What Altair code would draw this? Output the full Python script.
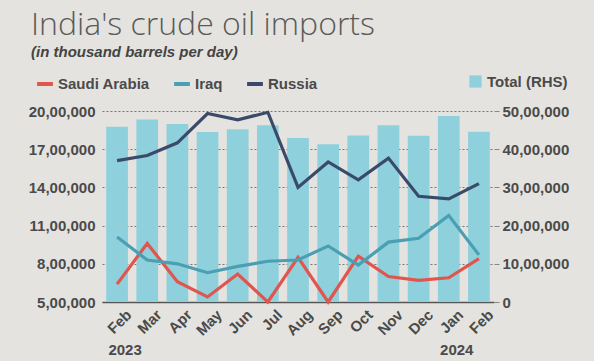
import altair as alt
import pandas as pd

months = ["Feb", "Mar", "Apr", "May", "Jun", "Jul", "Aug", "Sep", "Oct", "Nov", "Dec", "Jan", "Feb"]
years = ["2023"] * 11 + ["2024"] * 2
total = [4590000, 4780000, 4660000, 4450000, 4520000, 4630000, 4290000,
         4130000, 4360000, 4630000, 4350000, 4870000, 4460000]
saudi = [640000, 960000, 660000, 540000, 720000, 500000, 850000,
         500000, 860000, 700000, 670000, 690000, 840000]
iraq = [1010000, 830000, 800000, 730000, 780000, 820000, 830000,
        940000, 790000, 970000, 1000000, 1180000, 870000]
russia = [1610000, 1650000, 1750000, 1980000, 1930000, 1990000, 1400000,
          1600000, 1460000, 1630000, 1330000, 1310000, 1430000]
series_names = ["Saudi Arabia", "Iraq", "Russia"]
series_colors = ["#e0554d", "#4a9fb3", "#3b4a6a"]
year_marks = ["Feb 2023", "Jan 2024"]
year_text = ["2023", "2024"]

keys = [f"{m} {y}" for m, y in zip(months, years)]

bars_df = pd.DataFrame({"key": keys, "total": total, "lab": ["Total (RHS)"] * len(keys)})
rows = []
for name, vals in zip(series_names, [saudi, iraq, russia]):
    for k, v in zip(keys, vals):
        rows.append({"key": k, "series": name, "value": v})
lines_df = pd.DataFrame(rows)
years_df = pd.DataFrame({"key": year_marks, "year": year_text})

FONT = "Liberation Sans, Arial, sans-serif"
FS = 15
TXT = "#4a4a4a"
indian = ("datum.value == 0 ? '0' : format(floor(datum.value/100000),'d') + ',' + "
          "format(floor((datum.value%100000)/1000),'02d') + ',' + format(datum.value%1000,'03d')")

xenc = alt.X("key:N", sort=keys, title=None,
             scale=alt.Scale(paddingInner=0.28, paddingOuter=0.14),
             axis=alt.Axis(labelExpr="split(datum.label, ' ')[0]", labelAngle=-45,
                           labelFont=FONT, labelFontSize=FS, labelFontWeight="bold",
                           labelColor=TXT, ticks=False, domainColor="#555",
                           domainWidth=1.5, labelPadding=5, labelOffset=7))

bars = alt.Chart(bars_df).mark_bar(opacity=1).encode(
    x=xenc,
    y=alt.Y("total:Q", title=None,
            scale=alt.Scale(domain=[0, 5000000], nice=False),
            axis=alt.Axis(orient="right", values=[0, 1000000, 2000000, 3000000, 4000000, 5000000],
                          labelExpr=indian, grid=False, domain=False, ticks=True,
                          tickSize=5, tickColor="#888", labelPadding=3,
                          labelFont=FONT, labelFontSize=FS, labelFontWeight="bold",
                          labelColor=TXT)),
    color=alt.Color("lab:N", scale=alt.Scale(domain=["Total (RHS)"], range=["#8fd0dd"]),
                    legend=alt.Legend(title=None, orient="none", legendX=366, legendY=-37,
                                      symbolType="square", symbolSize=150,
                                      labelFont=FONT, labelFontSize=FS,
                                      labelFontWeight="bold", labelColor=TXT, labelOffset=4)),
)

lines = alt.Chart(lines_df).mark_line(strokeWidth=3.2).encode(
    x=alt.X("key:N", sort=keys),
    y=alt.Y("value:Q", title=None,
            scale=alt.Scale(domain=[500000, 2000000], nice=False),
            axis=alt.Axis(orient="left", values=[500000, 800000, 1100000, 1400000, 1700000, 2000000],
                          labelExpr=indian, grid=True, gridDash=[2, 2], gridColor="#777",
                          gridWidth=1, domain=False, ticks=False, labelPadding=7,
                          labelFont=FONT, labelFontSize=FS, labelFontWeight="bold",
                          labelColor=TXT)),
    color=alt.Color("series:N", scale=alt.Scale(domain=series_names, range=series_colors),
                    legend=alt.Legend(title=None, orient="none", legendX=-67, legendY=-37,
                                      direction="horizontal", symbolType="stroke",
                                      symbolStrokeWidth=4, symbolSize=250,
                                      columnPadding=16, labelOffset=3,
                                      labelFont=FONT, labelFontSize=FS,
                                      labelFontWeight="bold", labelColor=TXT)),
)

yr = alt.Chart(years_df).mark_text(font=FONT, fontSize=FS, fontWeight="bold", color=TXT,
                                   dx=8, baseline="middle").encode(
    x=alt.X("key:N", sort=keys),
    y=alt.value(239),
    text="year:N",
)

chart = alt.layer(bars, lines, yr).resolve_scale(
    y="independent", color="independent"
).properties(
    width=392, height=191,
    autosize=alt.AutoSizeParams(type="none"),
    padding={"left": 102, "top": 111, "right": 100, "bottom": 59},
    background="#e5e3df",
    title=alt.TitleParams(
        text="India's crude oil imports",
        subtitle="(in thousand barrels per day)",
        anchor="start", frame="group", dx=-71, offset=13,
        font="Open Sans", fontWeight=300, fontSize=32, color="#5a5a5a",
        subtitleFont=FONT, subtitleFontStyle="italic", subtitleFontWeight="bold",
        subtitleFontSize=15, subtitleColor="#444", subtitlePadding=3,
    ),
).configure_view(stroke=None)

chart.save("out.html", embed_options={"renderer": "svg", "actions": False})
